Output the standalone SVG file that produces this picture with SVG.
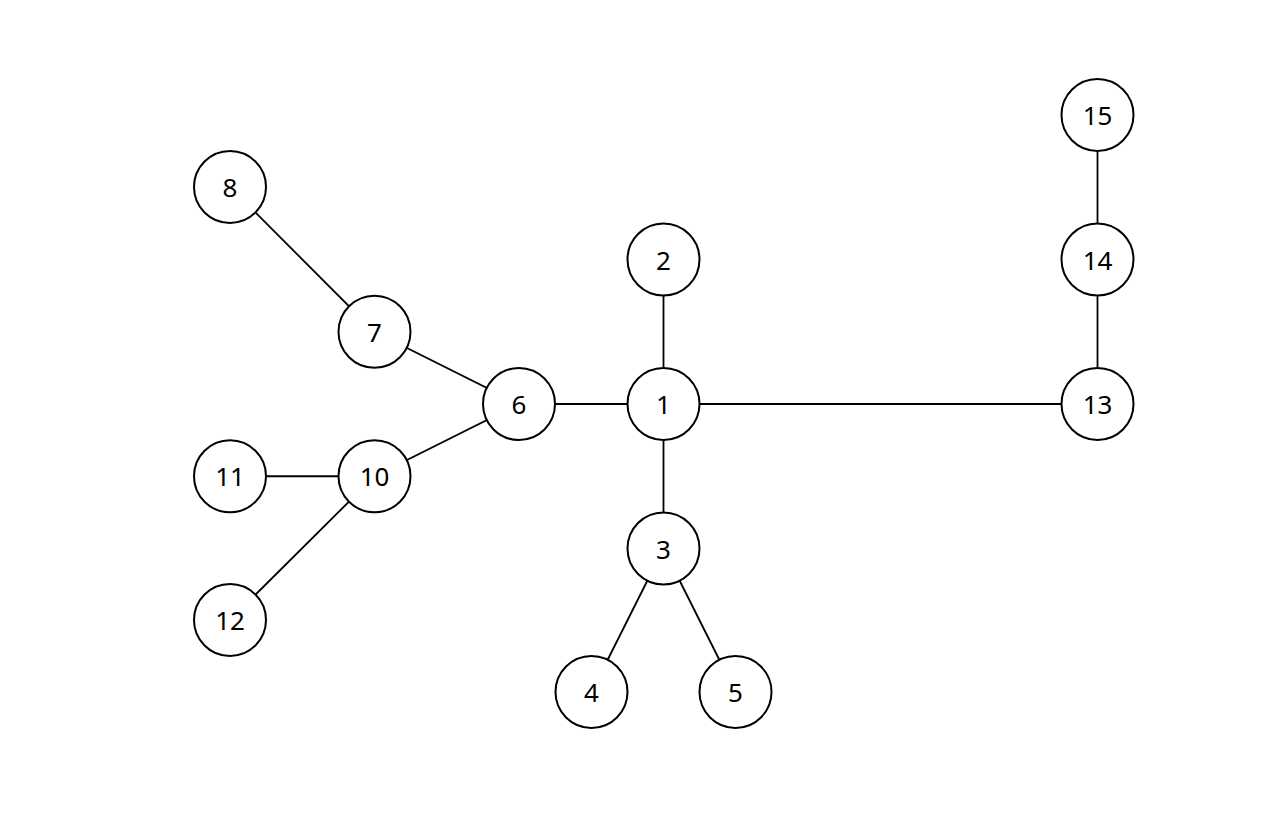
<svg xmlns="http://www.w3.org/2000/svg" width="1280" height="816" viewBox="0 0 1280 816">
<style>
.n circle{fill:#fff;stroke:#000;stroke-width:2}
.n text{font-family:"Noto Sans","Open Sans",sans-serif;font-size:26px;fill:#000;text-anchor:middle;dominant-baseline:central}
#edges line{stroke:#000;stroke-width:1.8}
</style>
<rect width="1280" height="816" fill="#fff"/>
<g id="edges">
<line x1="663.5" y1="404" x2="663.5" y2="259.5"/>
<line x1="663.5" y1="404" x2="663.5" y2="548.5"/>
<line x1="663.5" y1="548.5" x2="591.5" y2="692"/>
<line x1="663.5" y1="548.5" x2="735.5" y2="692"/>
<line x1="663.5" y1="404" x2="519" y2="404"/>
<line x1="663.5" y1="404" x2="1097.5" y2="404"/>
<line x1="519" y1="404" x2="374.5" y2="331.75"/>
<line x1="374.5" y1="331.75" x2="230" y2="187"/>
<line x1="519" y1="404" x2="374.5" y2="476.25"/>
<line x1="374.5" y1="476.25" x2="230" y2="476.25"/>
<line x1="374.5" y1="476.25" x2="230" y2="620"/>
<line x1="1097.5" y1="404" x2="1097.5" y2="259.5"/>
<line x1="1097.5" y1="259.5" x2="1097.5" y2="115"/>
</g>
<g id="node1" class="n"><circle cx="663.5" cy="404" r="36"/><text x="663.5" y="404">1</text></g>
<g id="node2" class="n"><circle cx="663.5" cy="259.5" r="36"/><text x="663.5" y="259.5">2</text></g>
<g id="node3" class="n"><circle cx="663.5" cy="548.5" r="36"/><text x="663.5" y="548.5">3</text></g>
<g id="node4" class="n"><circle cx="591.5" cy="692" r="36"/><text x="591.5" y="692">4</text></g>
<g id="node5" class="n"><circle cx="735.5" cy="692" r="36"/><text x="735.5" y="692">5</text></g>
<g id="node6" class="n"><circle cx="519" cy="404" r="36"/><text x="519" y="404">6</text></g>
<g id="node7" class="n"><circle cx="374.5" cy="331.75" r="36"/><text x="374.5" y="331.75">7</text></g>
<g id="node8" class="n"><circle cx="230" cy="187" r="36"/><text x="230" y="187">8</text></g>
<g id="node10" class="n"><circle cx="374.5" cy="476.25" r="36"/><text x="374.5" y="476.25">10</text></g>
<g id="node11" class="n"><circle cx="230" cy="476.25" r="36"/><text x="230" y="476.25">11</text></g>
<g id="node12" class="n"><circle cx="230" cy="620" r="36"/><text x="230" y="620">12</text></g>
<g id="node13" class="n"><circle cx="1097.5" cy="404" r="36"/><text x="1097.5" y="404">13</text></g>
<g id="node14" class="n"><circle cx="1097.5" cy="259.5" r="36"/><text x="1097.5" y="259.5">14</text></g>
<g id="node15" class="n"><circle cx="1097.5" cy="115" r="36"/><text x="1097.5" y="115">15</text></g>
</svg>
